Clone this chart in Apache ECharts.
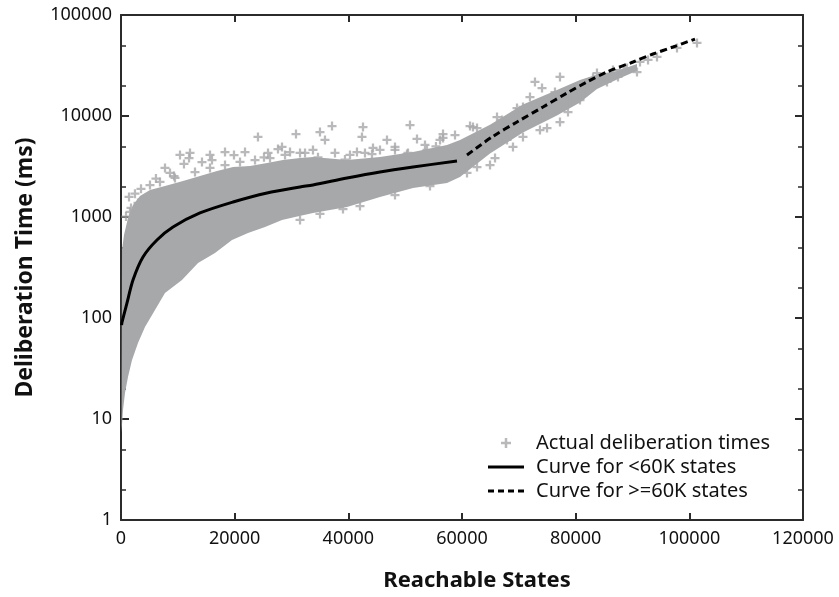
<!DOCTYPE html>
<html>
<head>
<meta charset="utf-8">
<title>Deliberation time vs reachable states</title>
<script src="https://cdn.jsdelivr.net/npm/echarts@6.0.0/dist/echarts.min.js"></script>
<style>
  html, body { margin: 0; padding: 0; background: #fff; }
  #chart { width: 839px; height: 597px; }
</style>
</head>
<body>
<div id="chart"></div>
<script>
// y minor ticks (log axis shows only decades by itself)
const yMinorTicks = [2, 5, 20, 50, 200, 500, 2000, 5000, 20000, 50000]

// dense core of the cloud: upper and lower edge
const coreTopX = [176, 528, 1230, 2110, 3340, 5100, 7740, 10910, 13900, 16890, 19710, 22700, 25690, 28500, 31500, 33780, 39770, 45570, 51380, 57360, 59650, 64930, 70730, 76710, 80760, 83750, 87270, 90790]
const coreTopY = [471, 664, 977, 1315, 1614, 1849, 2028, 2270, 2546, 2851, 3126, 3200, 3428, 3665, 3840, 3927, 3665, 3927, 4400, 5160, 5780, 8200, 13000, 18100, 22700, 25700, 27900, 32730]
const coreBottomX = [88, 176, 352, 704, 1230, 1940, 2990, 4220, 5980, 7740, 10730, 13550, 16540, 19530, 22350, 25340, 28330, 30620, 33780, 39770, 45570, 51380, 57360, 59650, 64930, 70730, 76710, 80760, 83750, 87270, 90790]
const coreBottomY = [7.4, 8.7, 12.3, 18.1, 26.1, 38.4, 56.5, 81.5, 120, 177, 238, 351, 440, 592, 695, 796, 933, 1000, 1096, 1256, 1578, 1937, 2173, 2489, 4250, 6850, 10100, 13600, 18500, 23000, 28000]

// single measurements outside / on the edge of the core
const pointX = [1760, 2990, 4220, 1580, 7740, 8620, 9330, 10380, 12140, 11970, 15660, 16010, 18300, 21820, 24100, 25870, 28330, 29740, 30790, 32380, 33780, 35010, 35890, 37130, 41520, 42400, 42580, 44340, 46800, 48210, 50500, 50850, 52080, 53840, 56660, 56660, 61410, 61930, 62640, 66160, 67040, 69680, 70730, 71960, 72840, 74080, 76360, 77240, 76710, 78650, 77240, 80760, 81290, 81990, 83050, 84810, 85510, 87450, 87800, 90790, 91320, 94310, 97830, 101350, 68970, 65810, 64930, 60880, 62640, 74960, 73720, 67920, 70730, 73200, 75480, 78470, 79880, 83750, 86570, 89030, 92730, 5100, 6860, 9500, 13020, 15660, 18300, 20940, 23580, 26220, 28860, 31500, 37650, 40290, 42930, 45570, 48210, 53490, 56130, 58770, 31500, 35010, 39060, 42050, 48210, 54370, 880, 1410, 2460, 3520, 6150, 11080, 14250, 19880, 25160, 27620, 34660, 39410, 44160, 50320, 55420, 72840, 74250, 75830, 79000, 69500, 64400, 63000]
const pointY = [1228, 1376, 1474, 1121, 3056, 2727, 2546, 4111, 4302, 3838, 4111, 3667, 4401, 4401, 6196, 4302, 4933, 4401, 6633, 4302, 4607, 6943, 5786, 7960, 4401, 6196, 7780, 4822, 5786, 4933, 4302, 8145, 5920, 4607, 6633, 6056, 7960, 7780, 7605, 9770, 9130, 12000, 12280, 15420, 21710, 18930, 17280, 24330, 11470, 10950, 8720, 14400, 16140, 21220, 23780, 24330, 21710, 24330, 28530, 27260, 34250, 38390, 47140, 52820, 4933, 3838, 3272, 2727, 3126, 7605, 7265, 5786, 6196, 9555, 14400, 16890, 18930, 26650, 28530, 29870, 35850, 2074, 2221, 2433, 2789, 3056, 3272, 3504, 3667, 3838, 4111, 4302, 4302, 4111, 4302, 4607, 4607, 5163, 5786, 6483, 934, 1071, 1200, 1285, 1651, 2027, 1010, 1580, 1700, 1900, 2400, 3350, 3500, 4100, 3900, 4700, 3900, 3700, 4200, 4200, 5000, 12900, 10100, 13300, 13900, 10800, 5100, 6100]

// fitted curves
const fitLowX = [100, 180, 1060, 2110, 3870, 6330, 9150, 13900, 19710, 25690, 31500, 33780, 39770, 45570, 51380, 59120]
const fitLowY = [85, 91, 141, 238, 402, 592, 796, 1096, 1408, 1730, 1983, 2075, 2432, 2792, 3127, 3583]
const fitHighX = [60880, 65280, 69680, 74250, 78470, 81990, 85510, 90090, 93610, 97120, 101000]
const fitHighY = [4110, 6196, 8730, 12280, 16890, 21710, 27260, 34250, 41110, 48200, 57810]

const FONT = 'Noto Sans'
const GRAY = '#a7a8aa'
const AXIS = '#2b2b2b'
const PLUS = 'path://M3,0H5V3H8V5H5V8H3V5H0V3H3Z'
const SOLID_ICON = 'path://M0,0H36V3H0Z'
const DASH_ICON = 'path://M0,0H6V3H0ZM10,0H16V3H10ZM20,0H26V3H20ZM30,0H36V3H30Z'

const chart = echarts.init(document.getElementById('chart'))

const tickLabel = { fontFamily: FONT, fontSize: 18, color: '#111' }
const axisLine = () => ({ show: true, onZero: false, lineStyle: { color: AXIS, width: 2 } })
const majorTick = len => ({ show: true, inside: true, length: len, lineStyle: { color: AXIS, width: 2 } })

const minorAxis = (position) => ({
  type: 'value',
  position,
  min: 0,
  max: 5,
  axisLine: { show: false, onZero: false },
  axisLabel: { show: false },
  splitLine: { show: false },
  axisTick: {
    show: true,
    inside: true,
    length: 5,
    lineStyle: { color: AXIS, width: 1.5 },
    customValues: yMinorTicks.map(Math.log10)
  }
})

chart.setOption({
  animation: false,
  grid: { left: 121, right: 36, top: 15, bottom: 77 },
  legend: {
    orient: 'vertical',
    left: 488,
    top: 433,
    padding: 0,
    itemWidth: 36,
    itemHeight: 10,
    itemGap: 4,
    selectedMode: false,
    textStyle: { fontFamily: FONT, fontSize: 20, lineHeight: 20, color: '#111', padding: [0, 0, 0, 7] },
    data: [
      { name: 'Actual deliberation times', icon: PLUS, itemStyle: { color: GRAY } },
      { name: 'Curve for <60K states', icon: SOLID_ICON, itemStyle: { color: '#000' } },
      { name: 'Curve for >=60K states', icon: DASH_ICON, itemStyle: { color: '#000' } }
    ]
  },
  xAxis: [
    {
      type: 'value',
      min: 0,
      max: 120000,
      interval: 20000,
      name: 'Reachable States',
      nameLocation: 'middle',
      nameGap: 50,
      nameTextStyle: { fontFamily: FONT, fontSize: 22, fontWeight: 'bold', color: '#111', padding: [0, 0, 0, 30] },
      axisLine: axisLine(),
      axisTick: majorTick(7),
      axisLabel: { ...tickLabel, margin: 10, formatter: v => String(v) },
      splitLine: { show: false }
    },
    {
      type: 'value',
      position: 'top',
      min: 0,
      max: 120000,
      interval: 20000,
      axisLine: axisLine(),
      axisTick: majorTick(7),
      axisLabel: { show: false },
      splitLine: { show: false }
    }
  ],
  yAxis: [
    {
      type: 'log',
      min: 1,
      max: 100000,
      name: 'Deliberation Time (ms)',
      nameLocation: 'middle',
      nameGap: 84,
      nameTextStyle: { fontFamily: FONT, fontSize: 23, fontWeight: 'bold', color: '#111', padding: [10, 0, 0, 0] },
      axisLine: axisLine(),
      axisTick: majorTick(8),
      axisLabel: { ...tickLabel, margin: 9, formatter: v => String(Math.round(v)) },
      splitLine: { show: false }
    },
    {
      type: 'log',
      position: 'right',
      min: 1,
      max: 100000,
      axisLine: axisLine(),
      axisTick: majorTick(8),
      axisLabel: { show: false },
      splitLine: { show: false }
    },
    minorAxis('left'),
    minorAxis('right')
  ],
  series: [
    {
      // solid part of the cloud
      type: 'custom',
      name: 'core',
      silent: true,
      z: 1,
      data: [[coreTopX[0], coreTopY[0]]],
      renderItem: (params, api) => {
        const pts = coreTopX.map((x, i) => api.coord([x, coreTopY[i]]))
        for (let i = coreBottomX.length - 1; i >= 0; i--) {
          pts.push(api.coord([coreBottomX[i], coreBottomY[i]]))
        }
        return { type: 'polygon', shape: { points: pts }, style: { fill: GRAY } }
      }
    },
    {
      name: 'Actual deliberation times',
      type: 'scatter',
      z: 2,
      symbol: PLUS,
      symbolSize: 9,
      itemStyle: { color: GRAY },
      data: pointX.map((x, i) => [x, pointY[i]])
    },
    {
      name: 'Curve for <60K states',
      type: 'line',
      z: 3,
      smooth: 0.3,
      symbol: 'none',
      lineStyle: { color: '#000', width: 3 },
      itemStyle: { color: '#000' },
      data: fitLowX.map((x, i) => [x, fitLowY[i]])
    },
    {
      name: 'Curve for >=60K states',
      type: 'line',
      z: 3,
      smooth: 0.3,
      symbol: 'none',
      lineStyle: { color: '#000', width: 3, type: [7, 4] },
      itemStyle: { color: '#000' },
      data: fitHighX.map((x, i) => [x, fitHighY[i]])
    }
  ]
})
</script>
</body>
</html>
